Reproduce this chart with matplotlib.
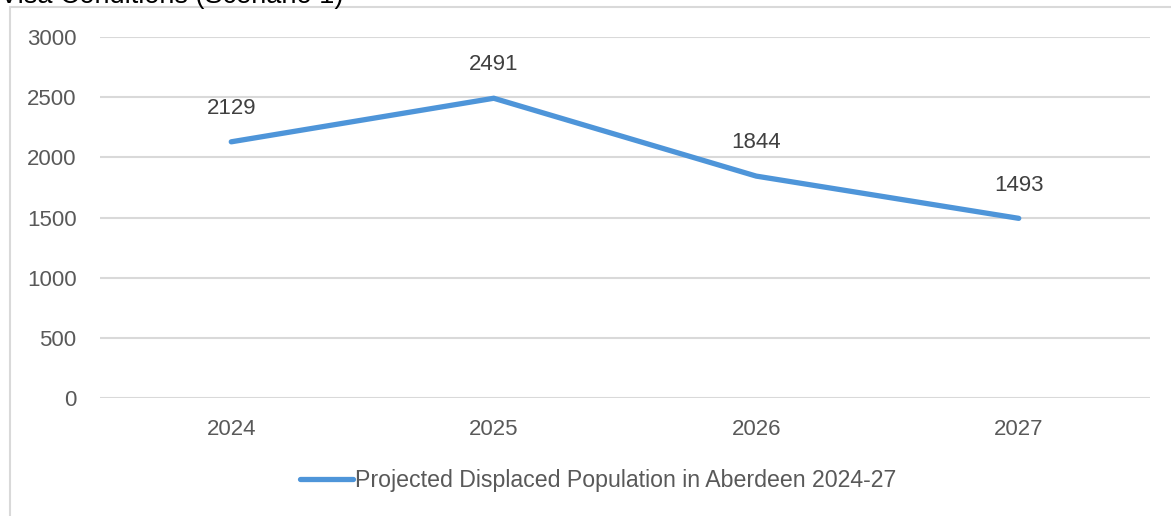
import matplotlib.pyplot as plt
from matplotlib.patches import Rectangle

plt.rcParams['font.family'] = ['Liberation Sans', 'DejaVu Sans']

# Dane wykresu
years = ['2024', '2025', '2026', '2027']
displaced = [2129, 2491, 1844, 1493]
y_ticks = [0, 500, 1000, 1500, 2000, 2500, 3000]
series_name = 'Projected Displaced Population in Aberdeen 2024-27'
title = 'Visa Conditions (Scenario 1)'

line_color = '#4E95D9'
grid_color = '#D9D9D9'
tick_color = '#595959'
label_color = '#404040'

W, H = 1171, 516
fig = plt.figure(figsize=(W / 100, H / 100), dpi=100)

# ramka obszaru wykresu
fig.patches.append(Rectangle((10 / W, -0.1), 1.2, (516 - 7) / H + 0.1,
                             transform=fig.transFigure, fill=False,
                             edgecolor=grid_color, linewidth=1.5, zorder=0))

# tytuł (przycięty u góry)
fig.text(0 / W, (H - 3) / H, title, fontsize=19.5, color='black',
         ha='left', va='baseline')

ax = fig.add_axes([100 / W, (H - 398) / H, 1050 / W, 361 / H])
x = range(len(years))
ax.plot(x, displaced, color=line_color, linewidth=3.8,
        solid_capstyle='round', solid_joinstyle='miter', label=series_name, zorder=3)

for xi, v in zip(x, displaced):
    ax.annotate(str(v), (xi, v), xytext=(0, 24), textcoords='offset points',
                ha='center', va='center', fontsize=16, color=label_color)

ax.set_xlim(-0.5, len(years) - 0.5)
ax.set_ylim(0, 3000)
ax.set_yticks(y_ticks)
ax.set_xticks(list(x))
ax.set_xticklabels(years)
ax.yaxis.grid(True, color=grid_color, linewidth=1.5)
ax.set_axisbelow(True)
for s in ax.spines.values():
    s.set_visible(False)
ax.tick_params(axis='both', length=0, labelsize=16, labelcolor=tick_color)
ax.tick_params(axis='y', pad=17)
ax.tick_params(axis='x', pad=15)

leg = fig.legend(loc='center', bbox_to_anchor=(598 / W, (H - 481) / H),
                 frameon=False, fontsize=16.7, handlelength=2.3, handletextpad=0.1,
                 labelcolor=tick_color)

fig.savefig('out.png', dpi=100)
